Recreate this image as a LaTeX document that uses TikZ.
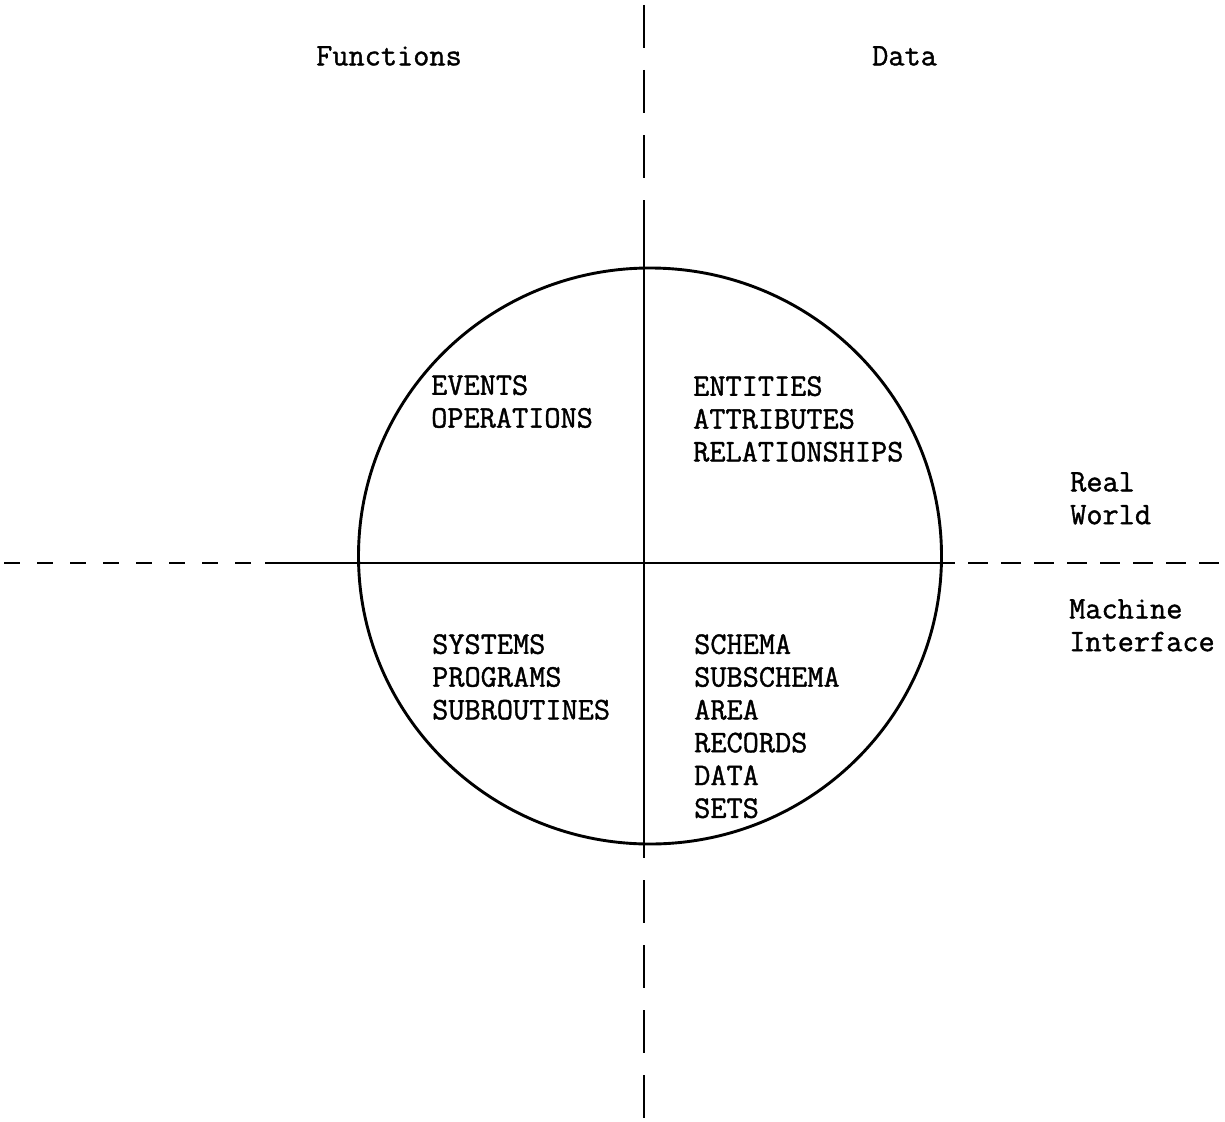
\documentclass[tikz,border=0pt]{standalone}
\usepackage{fontspec}
\newfontfamily\typewriter{Latin Modern Mono}[FakeBold=1.2]
\begin{document}
\begin{tikzpicture}[x=1pt,y=-1pt,
  axis/.style={line width=2.9pt},
  label/.style={font=\typewriter\fontsize{31.4}{32.8}\selectfont, align=left, anchor=north west, inner sep=0pt},
  dashv/.style={axis, dash pattern=on 43pt off 22pt},
  dashh/.style={axis, dash pattern=on 16pt off 17pt},
  dashhr/.style={axis, dash pattern=on 20pt off 13pt}]
\useasboundingbox (0,0) rectangle (1225,1121);

% quadrant circle
\draw[axis] (650,556) ellipse [x radius=291.5pt, y radius=288pt];

% vertical axis: dashed above and below, solid through the circle
\coordinate (vtop) at (644,5);
\coordinate (vtopend) at (644,180);
\coordinate (vin1) at (644,200);
\coordinate (vin2) at (644,858);
\coordinate (vbot) at (644,880);
\coordinate (vbotend) at (644,1118);
\draw[dashv] (vtop) -- (vtopend);
\draw[axis] (vin1) -- (vin2);
\draw[dashv] (vbot) -- (vbotend);

% horizontal axis: dashed at both ends, solid through the circle
\coordinate (hl) at (4,563);
\coordinate (hlend) at (252,563);
\coordinate (hin1) at (265,563);
\coordinate (hin2) at (955,563);
\coordinate (hr) at (968,563);
\coordinate (hrend) at (1221,563);
\draw[dashh] (hl) -- (hlend);
\draw[axis] (hin1) -- (hin2);
\draw[dashhr] (hr) -- (hrend);

% column and row headings
\node[label] (functions) at (316,46) {Functions};
\node[label] (data) at (872,46) {Data};
\node[label] (real) at (1070,472) {Real\\World};
\node[label] (machine) at (1069,599) {Machine\\Interface};

% quadrant contents
\node[label] (events) at (431,375) {EVENTS\\OPERATIONS};
\node[label] (entities) at (693,376) {ENTITIES\\ATTRIBUTES\\RELATIONSHIPS};
\node[label] (systems) at (432,634) {SYSTEMS\\PROGRAMS\\SUBROUTINES};
\node[label] (schema) at (694,634) {SCHEMA\\SUBSCHEMA\\AREA\\RECORDS\\DATA\\SETS};
\end{tikzpicture}
\end{document}
